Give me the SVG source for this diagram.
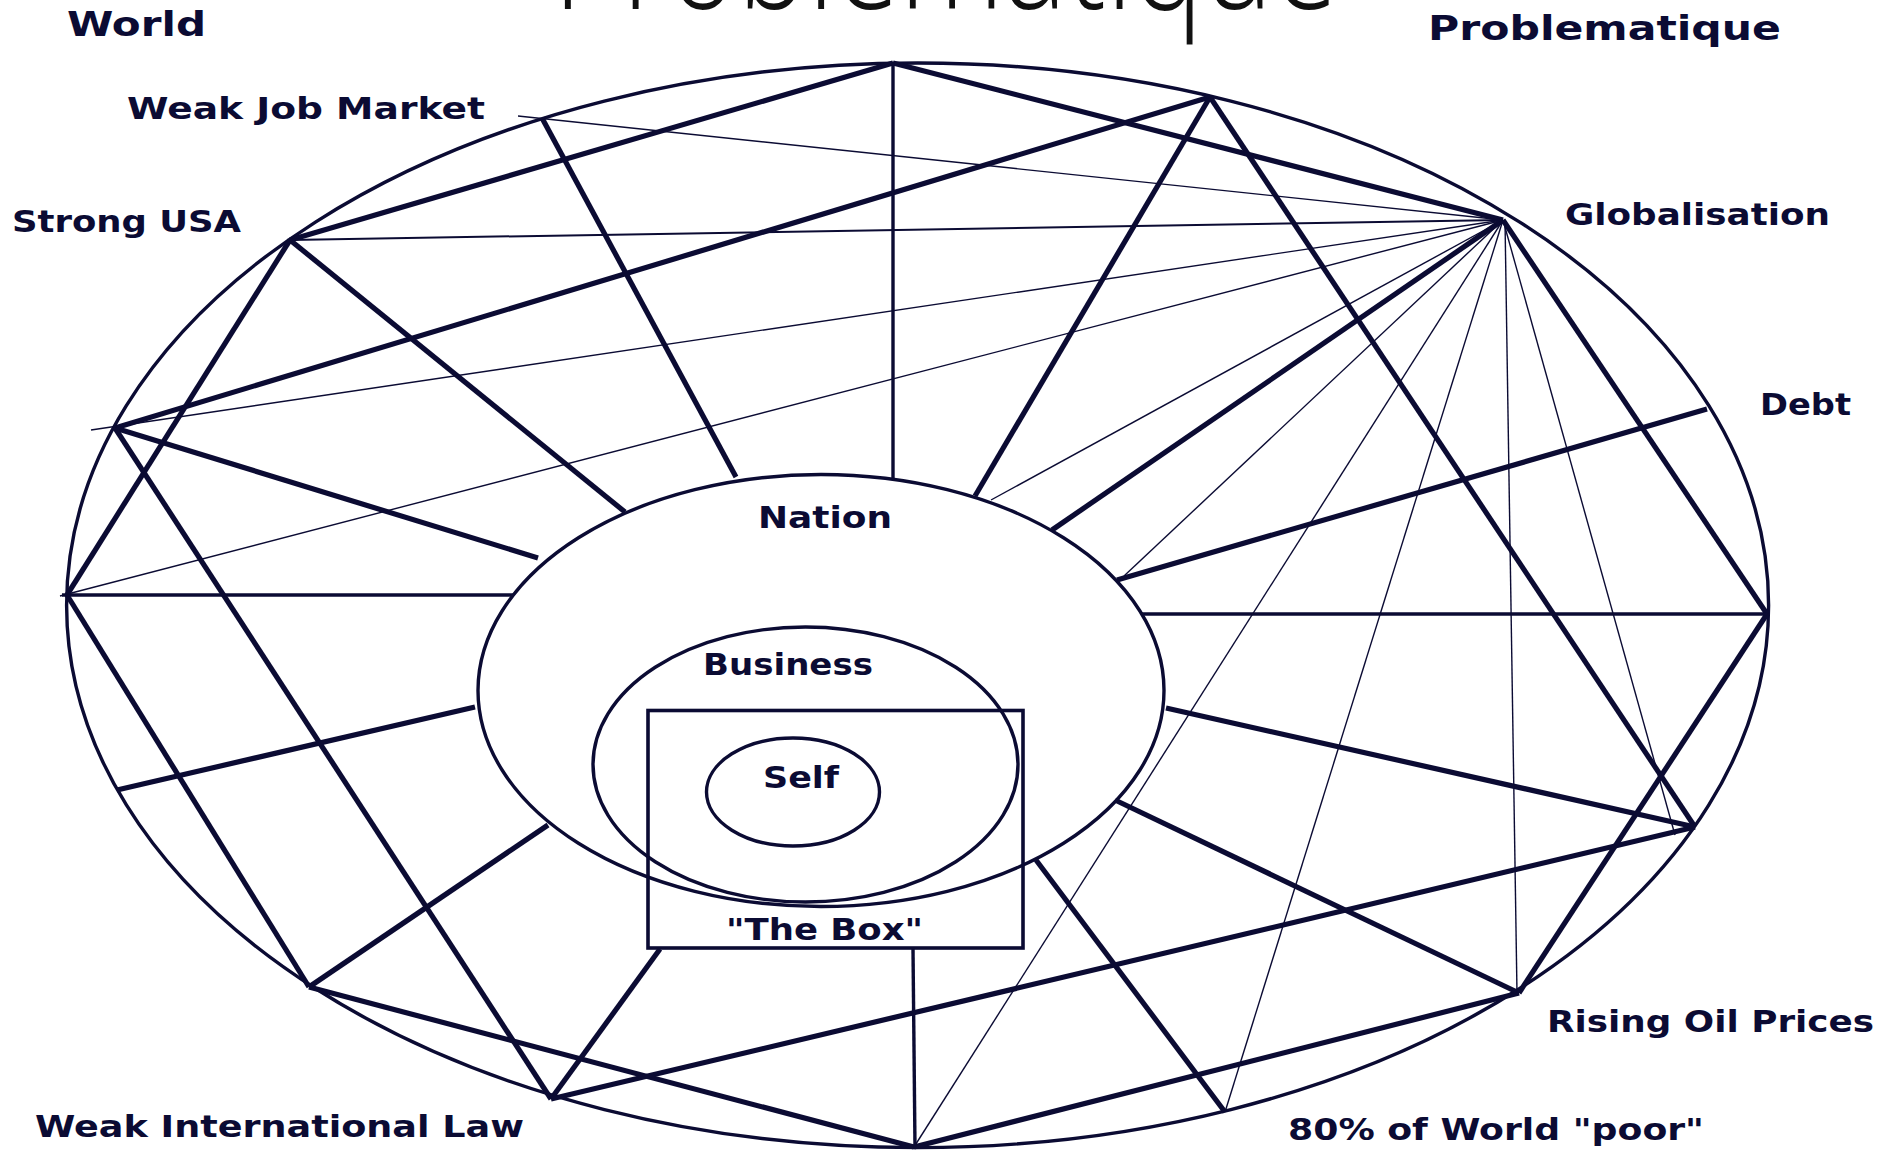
<svg xmlns="http://www.w3.org/2000/svg" width="1898" height="1150" viewBox="0 0 1898 1150">
<style>
  .bg { fill: #ffffff; }
  .ring { fill: none; stroke: #0b0b33; stroke-width: 3.4; }
  .box { fill: none; stroke: #0b0b33; stroke-width: 3.6; }
  .thick { stroke: #0b0b33; stroke-width: 5.2; fill: none; }
  .med { stroke: #0b0b33; stroke-width: 3.4; fill: none; }
  .thin { stroke: #0b0b33; stroke-width: 1.4; fill: none; }
  .lbl { font-family: "DejaVu Sans", "Liberation Sans", sans-serif; font-weight: bold; font-size: 30px; fill: #0b0b33; }
  .big { font-size: 34px; }
  .title { font-family: "Open Sans", "Lato", "Liberation Sans", sans-serif; font-weight: 300; font-size: 115px; fill: #111111; }
</style>
<rect class="bg" x="0" y="0" width="1898" height="1150"/>

<g id="title">
  <text class="title" transform="scale(1,1.3)" x="553" y="7" textLength="785" lengthAdjust="spacingAndGlyphs">Problematique</text>
</g>

<g id="world">
  <ellipse class="ring" cx="917.6" cy="605.3" rx="851" ry="542.3"/>
  <text class="lbl big" x="67" y="36" textLength="139" lengthAdjust="spacingAndGlyphs">World</text>
</g>

<g id="problematique">
  <text class="lbl big" x="1428" y="40" textLength="353" lengthAdjust="spacingAndGlyphs">Problematique</text>
</g>

<g id="nation">
  <ellipse class="ring" cx="821" cy="690.5" rx="343" ry="216"/>
  <text class="lbl" x="758" y="528" textLength="134" lengthAdjust="spacingAndGlyphs">Nation</text>
</g>

<g id="business">
  <ellipse class="ring" cx="805.5" cy="764.5" rx="212.5" ry="137.5"/>
  <text class="lbl" x="703" y="675" textLength="170" lengthAdjust="spacingAndGlyphs">Business</text>
</g>

<g id="self">
  <ellipse class="ring" cx="793" cy="792" rx="86.5" ry="54"/>
  <text class="lbl" x="763" y="788" textLength="76" lengthAdjust="spacingAndGlyphs">Self</text>
</g>

<g id="the-box">
  <rect class="box" x="648" y="710.5" width="375" height="237.5"/>
  <text class="lbl" x="726" y="940" textLength="197" lengthAdjust="spacingAndGlyphs">"The Box"</text>
</g>

<g id="weak-job-market">
  <text class="lbl" x="127" y="119" textLength="358" lengthAdjust="spacingAndGlyphs">Weak Job Market</text>
</g>
<g id="strong-usa">
  <text class="lbl" x="12" y="232" textLength="229" lengthAdjust="spacingAndGlyphs">Strong USA</text>
</g>
<g id="globalisation">
  <text class="lbl" x="1565" y="225" textLength="265" lengthAdjust="spacingAndGlyphs">Globalisation</text>
</g>
<g id="debt">
  <text class="lbl" x="1760" y="415" textLength="91" lengthAdjust="spacingAndGlyphs">Debt</text>
</g>
<g id="rising-oil-prices">
  <text class="lbl" x="1547" y="1032" textLength="327" lengthAdjust="spacingAndGlyphs">Rising Oil Prices</text>
</g>
<g id="world-poor">
  <text class="lbl" x="1288" y="1140" textLength="416" lengthAdjust="spacingAndGlyphs">80% of World "poor"</text>
</g>
<g id="weak-international-law">
  <text class="lbl" x="35" y="1137" textLength="489" lengthAdjust="spacingAndGlyphs">Weak International Law</text>
</g>

<g id="connectors">
  <line class="thick" x1="893" y1="63" x2="290" y2="240"/>
  <line class="thick" x1="893" y1="63" x2="1503" y2="220"/>
  <line class="thick" x1="1210" y1="97" x2="115" y2="428"/>
  <line class="thick" x1="1210" y1="97" x2="975" y2="496"/>
  <line class="thick" x1="1210" y1="97" x2="1695" y2="827"/>
  <line class="thick" x1="542" y1="118" x2="736" y2="477"/>
  <line class="thick" x1="290" y1="240" x2="625" y2="512"/>
  <line class="thick" x1="290" y1="240" x2="67" y2="595"/>
  <line class="thick" x1="115" y1="428" x2="538" y2="558"/>
  <line class="thick" x1="115" y1="428" x2="551" y2="1099"/>
  <line class="thick" x1="67" y1="595" x2="309" y2="987"/>
  <line class="thick" x1="117" y1="790" x2="475" y2="707"/>
  <line class="thick" x1="309" y1="987" x2="548" y2="825"/>
  <line class="thick" x1="309" y1="987" x2="914" y2="1147"/>
  <line class="thick" x1="551" y1="1099" x2="660" y2="949"/>
  <line class="thick" x1="551" y1="1099" x2="1695" y2="827"/>
  <line class="thick" x1="914" y1="1147" x2="1519" y2="993"/>
  <line class="thick" x1="1225" y1="1112" x2="1036" y2="860"/>
  <line class="thick" x1="1519" y1="993" x2="1115" y2="800"/>
  <line class="thick" x1="1519" y1="993" x2="1767" y2="614"/>
  <line class="thick" x1="1695" y1="827" x2="1166" y2="708"/>
  <line class="thick" x1="1767" y1="614" x2="1503" y2="220"/>
  <line class="thick" x1="1503" y1="220" x2="1052" y2="530"/>
  <line class="thick" x1="1707" y1="409" x2="1117" y2="580"/>

  <line class="med" x1="893" y1="63" x2="893" y2="480"/>
  <line class="med" x1="913" y1="949" x2="915" y2="1147"/>
  <line class="med" x1="62" y1="595" x2="513" y2="595"/>
  <line class="med" x1="1141" y1="614" x2="1767" y2="614"/>

  <line class="thin" x1="518" y1="116" x2="1503" y2="220"/>
  <line class="thin" style="stroke-width:2" x1="290" y1="240" x2="1503" y2="220"/>
  <line class="thin" x1="91" y1="430" x2="1503" y2="220"/>
  <line class="thin" x1="60" y1="596" x2="1503" y2="220"/>
  <line class="thin" x1="1503" y1="220" x2="991" y2="500"/>
  <line class="thin" x1="1503" y1="220" x2="1124" y2="576"/>
  <line class="thin" x1="1503" y1="220" x2="914" y2="1147"/>
  <line class="thin" x1="1503" y1="220" x2="1225" y2="1112"/>
  <line class="thin" x1="1505" y1="220" x2="1517" y2="993"/>
  <line class="thin" x1="1503" y1="220" x2="1675" y2="835"/>
</g>
</svg>
